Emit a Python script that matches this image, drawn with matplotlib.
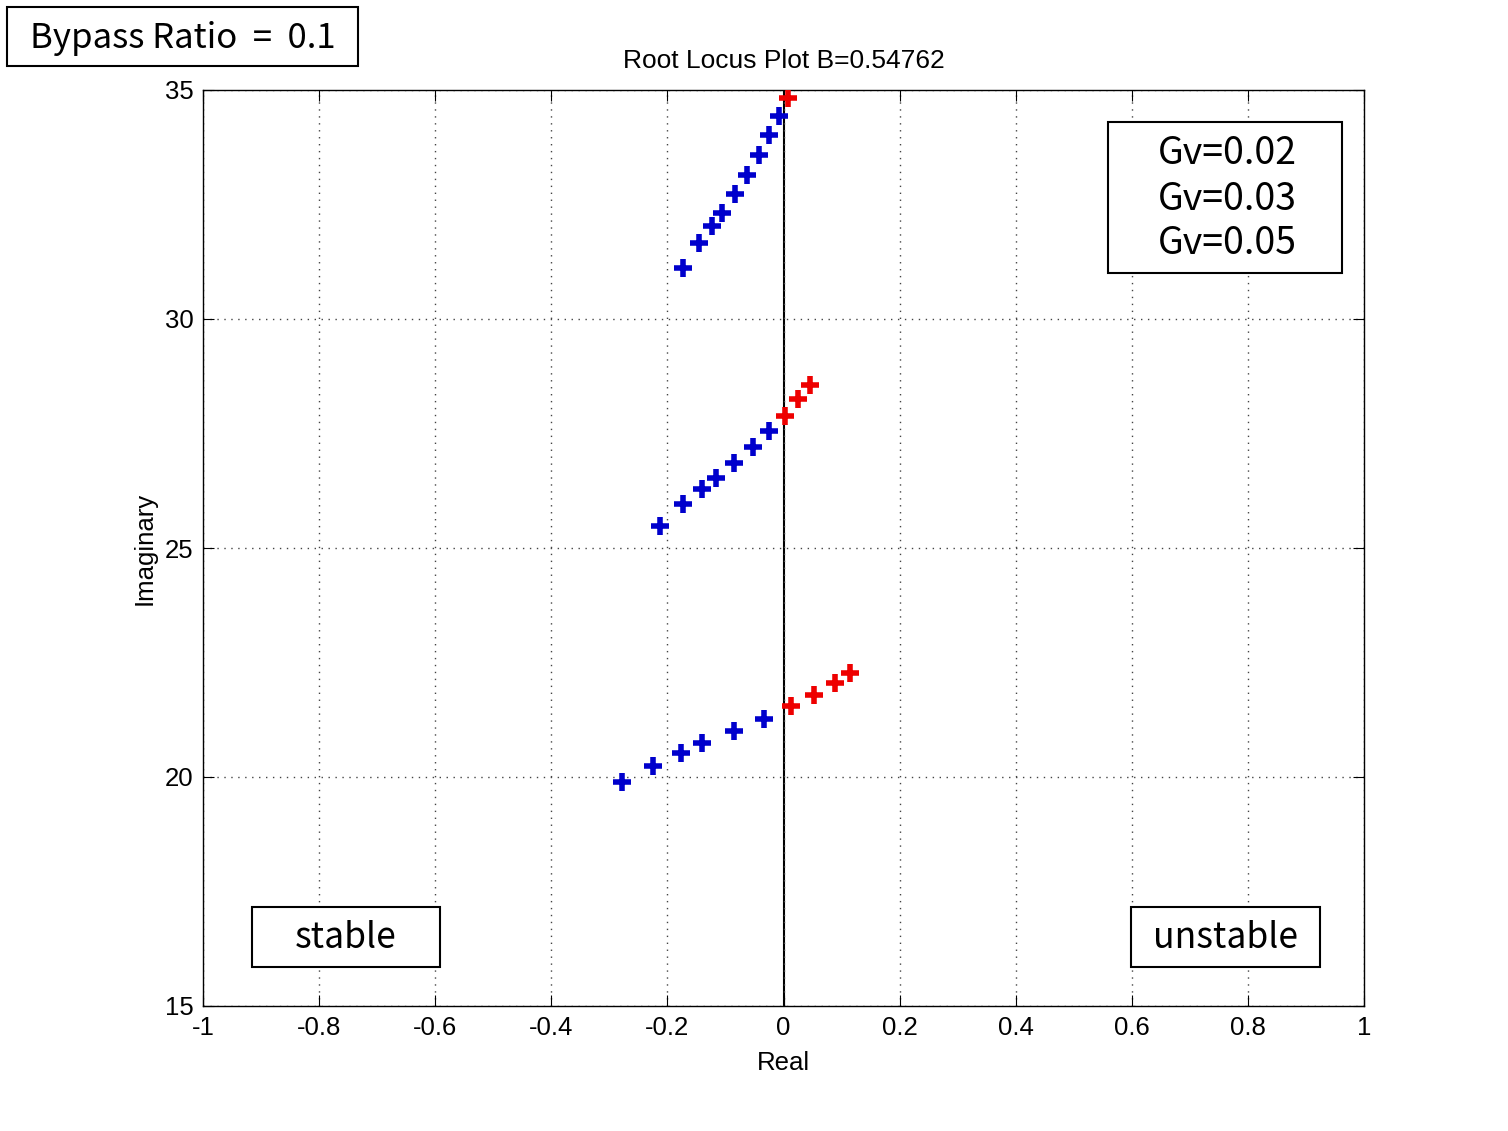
import matplotlib
matplotlib.use("Agg")
import matplotlib.pyplot as plt
from matplotlib.patches import Rectangle
import numpy as np

# Data
blue_re = [-0.173, -0.145, -0.123, -0.106, -0.083, -0.063, -0.042, -0.025, -0.007,
           -0.212, -0.173, -0.140, -0.117, -0.085, -0.053, -0.025,
           -0.278, -0.224, -0.177, -0.140, -0.085, -0.033]
blue_im = [31.11, 31.65, 32.03, 32.31, 32.73, 33.14, 33.58, 34.02, 34.43,
           25.49, 25.95, 26.28, 26.52, 26.85, 27.21, 27.56,
           19.88, 20.25, 20.52, 20.74, 21.01, 21.26]
red_re = [0.007,
          0.003, 0.025, 0.046,
          0.013, 0.053, 0.088, 0.115]
red_im = [34.82,
          27.89, 28.25, 28.56,
          21.54, 21.78, 22.05, 22.28]

xticks = [-1, -0.8, -0.6, -0.4, -0.2, 0, 0.2, 0.4, 0.6, 0.8, 1]
xticklabels = ["-1", "-0.8", "-0.6", "-0.4", "-0.2", "0", "0.2", "0.4", "0.6", "0.8", "1"]
yticks = [15, 20, 25, 30, 35]
gv_labels = ["Gv=0.02", "Gv=0.03", "Gv=0.05"]

W, H = 1508, 1131
fig = plt.figure(figsize=(W / 100, H / 100), dpi=100)
ax = fig.add_axes([203 / W, 1 - 1006 / H, (1364 - 203) / W, (1006 - 90) / H])

ax.axvline(0, color="black", lw=1.5, zorder=1)
ax.plot(blue_re, blue_im, linestyle="none", marker="+", color="#0000cc",
        ms=13, mew=4, zorder=3)
ax.plot(red_re, red_im, linestyle="none", marker="+", color="#ee0000",
        ms=13, mew=4, zorder=3)

ax.set_xlim(-1, 1)
ax.set_ylim(15, 35)
ax.set_xticks(xticks)
ax.set_xticklabels(xticklabels)
ax.set_yticks(yticks)
ax.grid(True, linestyle=(0, (1, 4)), color="#444444", lw=1)
ax.tick_params(direction="in", top=True, right=True, length=8, labelsize=18.5, pad=7)
for lab in ax.get_xticklabels() + ax.get_yticklabels():
    lab.set_fontfamily("Liberation Sans")
for s in ax.spines.values():
    s.set_linewidth(1)

ax.set_xlabel("Real", fontsize=18.5, family="Liberation Sans", labelpad=8)
ax.set_ylabel("Imaginary", fontsize=18.5, family="Liberation Sans", labelpad=6)
ax.set_title("Root Locus Plot B=0.54762", fontsize=19, family="Liberation Sans", pad=16)

font_box = ["Noto Sans CJK KR", "DejaVu Sans"]

def fig_box(x0, y0, x1, y1):
    r = Rectangle((x0 / W, 1 - y1 / H), (x1 - x0) / W, (y1 - y0) / H,
                  transform=fig.transFigure, fill=True, facecolor="white",
                  edgecolor="black", lw=1.5, zorder=5)
    fig.patches.append(r)

def fig_txt(x, y, s, size=26):
    fig.text(x / W, 1 - y / H, s, ha="center", va="center", fontsize=size,
             family=font_box, zorder=6)

fig_box(7, 7, 358, 66)
fig_txt(183, 38, "Bypass Ratio  =  0.1", size=25)

fig_box(1108, 122, 1342, 273)
for i, s in enumerate(gv_labels):
    fig_txt(1227, 154 + 45 * i, s, size=27)

fig_box(252, 907, 440, 967)
fig_txt(346, 938, "stable", size=25.5)
fig_box(1131, 907, 1320, 967)
fig_txt(1226, 938, "unstable", size=25.5)

fig.savefig("out.png", dpi=100)
